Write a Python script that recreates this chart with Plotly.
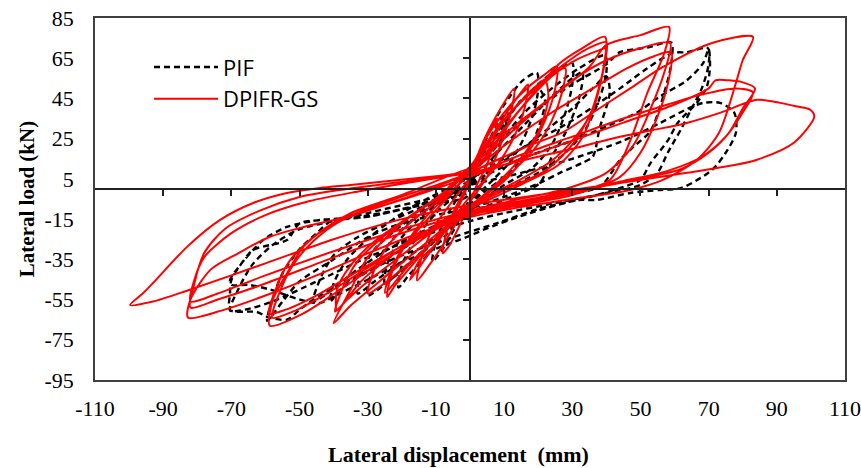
import plotly.graph_objects as go

# ---------------- tick labels ----------------
x_ticks = [-110, -90, -70, -50, -30, -10, 10, 30, 50, 70, 90, 110]
y_ticks = [85, 65, 45, 25, 5, -15, -35, -55, -75, -95]
x_zero_ticks = [-90, -70, -50, -30, -10, 10, 30, 50, 70, 90]
y_zero_ticks = [65, 45, 25, 5, -15, -35, -55, -75]

# ---------------- PIF (black dashed) cycles, (displacement mm, load kN) ----------------
pif_c1 = [(0, 3), (4, 18), (8, 32), (11, 38), (10, 28), (7, 15), (4, 5), (0, -5), (-4, -18), (-8, -30),
          (-11, -36), (-10, -26), (-7, -14), (-3, -3), (0, 3)]
pif_c2 = [(0, 3), (3.8, 21), (7.9, 36), (11.7, 46), (15.5, 54), (19.6, 57.7), (20, 50), (19, 40), (16, 26),
          (12, 14), (7, 5), (0, -7), (-5, -19), (-12, -32), (-18, -43), (-21, -49), (-20, -38), (-16, -25),
          (-10, -12), (-4, -3), (0, 3)]
pif_c2b = [(0, 2), (5, 18), (10, 32), (15, 44), (20, 50), (22, 44), (20, 30), (16, 16), (10, 6), (3, -3),
           (-4, -14), (-12, -28), (-20, -40), (-25, -47), (-24, -36), (-20, -24), (-13, -12), (-5, -3), (0, 2)]
pif_c3 = [(0, 4), (5, 20), (12, 38), (20, 52), (26, 60), (30, 62.6), (30, 52), (28, 38), (24, 22), (18, 10),
          (10, 2), (0, -10), (-8, -22), (-16, -35), (-24, -46), (-30, -53), (-29, -42), (-25, -30), (-18, -17),
          (-9, -6), (0, 4)]
pif_c3b = [(0, 3), (8, 18), (16, 32), (24, 46), (30, 55), (33, 58), (32, 45), (28, 28), (24, 16), (20.5, 3),
           (12, -4), (0, -12), (-10, -24), (-20, -36), (-28, -46), (-33, -52), (-32, -42), (-28, -30),
           (-20, -18), (-10, -6), (0, 3)]
pif_c4 = [(0, 5), (8, 22), (16, 38), (24, 50), (32, 60), (39.6, 66.4), (40, 58), (38, 45), (34, 30), (28, 18),
          (20, 8), (8, -2), (0, -8), (-10, -19), (-20, -30), (-30, -41), (-38, -50), (-41, -56), (-40, -47),
          (-36, -35), (-28, -22), (-18, -10), (-8, -1), (0, 5)]
pif_c4b = [(0, 2), (10, 14), (20, 26), (30, 40), (36, 50), (40, 56), (41, 48), (38, 30), (36, 16), (33, 13),
           (26.4, 8), (20.5, 3), (10, -4), (0, -10), (-10, -18), (-22, -28), (-33, -40), (-42, -52),
           (-46, -56), (-44, -45), (-40, -33), (-33, -24), (-22, -15), (-10, -6), (0, 2)]
pif_c5 = [(0, 5), (10, 25), (20, 40), (30, 52), (40, 62), (44, 68), (52, 70.3), (59, 72.8), (59, 62), (57, 48),
          (53, 29), (48, 21), (44, 14.4), (38, 1), (25, -3), (10, -8), (0, -10), (-10, -13), (-20, -17),
          (-30, -24), (-40, -35), (-50, -46), (-55, -56), (-59.5, -65.6), (-58, -55), (-55, -42), (-50, -30),
          (-45, -22), (-40.2, -15.4), (-30.2, -13.9), (-20.5, -10.4), (-10.9, -7), (-1, -4), (0, 3)]
pif_c6 = [(0, 3), (15, 15), (30, 24), (44, 34), (49, 38), (55.7, 46), (63.6, 54), (68.4, 62.6), (70, 69.5),
          (70.4, 61), (69.5, 51), (66.6, 43), (61, 33), (58, 24), (53, 13), (50, 4.5), (45, 1), (35, -4),
          (20, -10), (8, -17), (-5, -24), (-20, -33), (-35, -45), (-44, -53), (-50, -60), (-53.7, -65),
          (-59.5, -63.6), (-62.5, -61.2), (-70.4, -60.2), (-70.4, -52), (-70, -45.3), (-67, -37), (-63.6, -30.3),
          (-60.7, -25.4), (-53.7, -18.9), (-44, -15.4), (-35, -14.4), (-20, -10), (-8, -4), (0, 2)]
pif_c6b = [(0, 4), (15, 20), (30, 34), (44, 50), (52, 60), (59.5, 67.6), (63.6, 68), (69.8, 70), (70, 62),
           (68, 50), (65, 40), (62, 30), (58, 18), (55, 8), (50, 2), (40, -2), (25, -7), (10, -12), (0, -16),
           (-15, -24), (-30, -34), (-45, -46), (-58, -56), (-66, -60), (-70.4, -60.5), (-68, -50),
           (-64, -38), (-58, -28), (-50, -20), (-40, -16), (-25, -10), (-10, -4), (0, 2)]
pif_c7 = [(0, 2), (15, 8), (30, 15), (45, 24), (56, 33), (64, 40), (68.4, 42.8), (73.3, 42.8), (77.5, 38),
          (78, 28), (75, 18), (71, 9.5), (62, 0.5), (55.7, -0.5), (47, -2), (37, -5.5), (32, -5.5),
          (17.6, -12), (3.8, -20.4), (-0.9, -23.9), (-10.9, -30.3), (-20.5, -36.8), (-30.2, -45.3),
          (-40.2, -53.7), (-44, -56.7), (-49.9, -55), (-58.7, -50), (-65, -47.7), (-70, -47.7), (-70.4, -45.3),
          (-67, -37), (-63.6, -30.3), (-53.7, -25.4), (-49.9, -17), (-40.2, -15.4), (-30.2, -13.9), (-15, -8),
          (0, -2)]

# ---------------- DPIFR-GS (red) cycles ----------------
dp_c1 = [(0, 5), (3, 18), (6, 30), (8, 35), (7, 25), (5, 12), (2, 2), (0, -7), (-3, -18), (-6, -28), (-8, -32),
         (-7, -22), (-5, -12), (-2, -2), (0, 5)]
dp_c2 = [(0, 6), (4, 24), (9, 40), (13, 50), (12, 38), (9, 22), (5, 6), (1, -4), (-3, -14), (-8, -28),
         (-12, -38), (-15.5, -45.5), (-14, -33), (-11, -20), (-6, -8), (-2, 1), (0, 6)]
dp_c2b = [(0, 7), (5, 22), (10, 36), (15, 48), (17, 52), (16, 40), (13, 26), (8, 12), (3, 2), (-2, -8),
          (-7, -20), (-12, -32), (-17.6, -45.3), (-14.7, -35.3), (-9.7, -26.9), (-5, -14), (-1, 0), (0, 7)]
dp_c3 = [(0, 8), (5, 26), (12, 42), (18, 52), (22, 57), (25.5, 61), (25, 50), (22, 34), (17, 18), (10, 4),
         (2, -6), (-5, -16), (-12, -28), (-18, -40), (-22, -48), (-24.3, -53.7), (-23, -42), (-19, -28),
         (-13, -14), (-6, -2), (0, 8)]
dp_c3b = [(0, 9), (6, 24), (12, 38), (18, 48), (22, 54), (23, 46), (21, 32), (17, 20), (11, 8), (4, -3),
          (-4, -14), (-11, -26), (-18, -38), (-24.9, -51.7), (-23, -40), (-20, -30), (-14, -18), (-7, -5), (0, 9)]
dp_c3c = [(0, 10), (7, 28), (14, 42), (20, 52), (26, 59), (28, 60), (27, 48), (24, 34), (19, 20), (12, 8),
          (4, -4), (-4, -16), (-12, -28), (-20, -40), (-26, -48), (-30, -52), (-28, -40), (-24, -28), (-17, -16),
          (-8, -4), (0, 10)]
dp_c4 = [(0, 9), (5, 16), (12, 34), (20, 50), (26, 62), (33, 70), (39.6, 75.6), (38, 50.7), (33, 25.8),
         (26, 12), (16, 3), (6, -5), (0, -10), (-8, -20), (-18, -34), (-28, -48), (-35, -58), (-40, -66.7),
         (-35, -50), (-30, -34), (-25, -25), (-20, -17), (-10, -5), (0, 9)]
dp_c5 = [(0, 10), (6, 20), (14, 38), (22, 54), (30, 65), (36, 71), (40, 73), (39, 58), (36, 40), (30, 22),
         (22, 9), (12, 1), (0, -9), (-10, -20), (-20, -33), (-30, -46), (-36, -55), (-39.6, -61), (-37, -48),
         (-33, -36), (-27, -26), (-18, -14), (-8, -3), (0, 10)]
dp_c5b = [(0, 11), (8, 26), (16, 42), (24, 56), (31, 64), (38, 69), (40, 70), (38.5, 55), (35, 36),
          (30, 24), (24, 14), (14, 4), (2, -6), (-10, -18), (-22, -32), (-32, -46), (-39, -60), (-39, -50),
          (-35, -38), (-28, -26), (-18, -14), (-8, -2), (0, 11)]
dp_c6 = [(0, 10), (8, 24), (15, 34), (25.5, 47.7), (35, 60.7), (40, 71.6), (50, 76.5), (58.4, 80.5),
         (57, 67.6), (52, 47.7), (47, 24), (41, 4.5), (30, -2), (15, -7), (0, -12), (-12, -22), (-25, -35),
         (-38, -50), (-49, -62), (-58.7, -68), (-57.8, -55), (-53.7, -42), (-49, -29), (-42, -19), (-35, -12),
         (-20, -3), (0, 10)]
dp_c7 = [(0, 9), (10, 25), (20, 40), (30, 54), (40, 64), (50, 70), (58.7, 72.6), (57, 58), (53, 40), (48, 22),
         (40, 8), (28, 0), (12, -6), (0, -11), (-14, -22), (-28, -37), (-42, -52), (-52, -61), (-58, -64),
         (-56, -52), (-52, -38), (-46, -26), (-38, -16), (-25, -8), (-10, 1), (0, 8)]
dp_c7b = [(0, 8), (12, 24), (24, 38), (36, 50), (46, 60), (54, 66), (59, 68), (58, 52), (55, 36), (50, 18),
          (44, 6), (30, -3), (15, -8), (0, -13), (-15, -24), (-30, -38), (-44, -52), (-54, -60), (-59, -62),
          (-57, -50), (-53, -36), (-46, -24), (-36, -14), (-22, -5), (-8, 3), (0, 8)]
dp_c8 = [(0, 8), (10, 16), (18, 22), (27, 28), (37, 39), (47, 50), (56.6, 60.7), (71, 72.6), (83, 75.6),
         (80, 64), (78, 52.7), (73, 27.8), (66.5, 14.4), (56.6, 4.5), (47, -0.5), (30, -5), (15, -9), (0, -14),
         (-15, -22), (-30, -32), (-45, -43), (-60, -53), (-72, -60), (-82.7, -64), (-82, -55), (-76, -40),
         (-68, -32), (-59, -24), (-49, -19), (-39, -15), (-25, -8), (-12, -1), (0, 6)]
dp_c9 = [(0, 6), (15, 15), (30, 24), (45, 33), (60, 42), (70, 50), (72, 54), (76, 54), (80, 53), (83.6, 50),
         (80, 40), (76, 28), (70, 18), (62, 10), (50, 5), (35, 0), (18, -6), (0, -12), (-20, -22), (-40, -34),
         (-60, -47), (-74, -55), (-82, -59), (-81, -48), (-78, -32), (-72, -20), (-62, -11), (-50, -4),
         (-36, 0), (-18, 4), (0, 8)]
dp_c9b = [(0, 7), (15, 17), (30, 26), (45, 35), (58, 42), (68, 47), (78, 50), (83, 48), (80, 38), (75, 26),
          (68, 16), (58, 9), (45, 4), (30, -1), (15, -6), (0, -11), (-20, -20), (-40, -31), (-60, -43),
          (-74, -52), (-82, -56), (-81, -46), (-78, -34), (-70, -22), (-60, -13), (-47, -6), (-32, -1),
          (-15, 4), (0, 8)]
dp_c10 = [(0, 8), (15, 14), (30, 20), (44, 26), (53.7, 29.3), (63.6, 32.8), (73.3, 37.8), (84.2, 44.3),
          (91, 42.8), (96, 41), (99.7, 39.5), (101, 36), (95, 23), (84, 14.4), (78, 12), (63.6, 8), (44, 3),
          (20, -3), (0, -8), (-20, -15), (-40, -25), (-60, -37), (-82, -50), (-93, -56), (-99.7, -57.7),
          (-96, -52), (-93, -46.8), (-83, -28.8), (-73.3, -15.4), (-63.6, -7), (-53.7, -2), (-44, 0.5),
          (-35, 2), (-18, 5), (0, 8)]

pif_cycles = [pif_c1, pif_c2, pif_c2b, pif_c3, pif_c3b, pif_c4, pif_c4b, pif_c5, pif_c6, pif_c6b, pif_c7]
dp_cycles = [dp_c1, dp_c2, dp_c2b, dp_c3, dp_c3b, dp_c3c, dp_c4, dp_c5, dp_c5b, dp_c6, dp_c7, dp_c7b,
             dp_c8, dp_c9, dp_c9b, dp_c10]


def flatten(cycles):
    xs, ys = [], []
    for c in cycles:
        for x, y in c:
            xs.append(x)
            ys.append(y)
    return xs, ys


pif_x, pif_y = flatten(pif_cycles)
dp_x, dp_y = flatten(dp_cycles)

fig = go.Figure()
fig.add_trace(go.Scatter(x=pif_x, y=pif_y, mode='lines', name='PIF',
                         line=dict(color='black', width=2.4, dash='6px,4px', shape='spline', smoothing=0.8)))
fig.add_trace(go.Scatter(x=dp_x, y=dp_y, mode='lines', name='DPIFR-GS',
                         line=dict(color='#ff0000', width=2, shape='spline', smoothing=0.8)))
# carrier for the zero-line axes
fig.add_trace(go.Scatter(x=[None], y=[None], xaxis='x2', yaxis='y2', showlegend=False, hoverinfo='skip'))

serif = 'Liberation Serif, Times New Roman, serif'
fig.update_layout(
    width=861, height=468,
    margin=dict(l=95, r=16, t=18, b=88, autoexpand=False),
    paper_bgcolor='white', plot_bgcolor='white',
    showlegend=True,
    legend=dict(x=0.072, y=0.922, xanchor='left', yanchor='top', bgcolor='rgba(0,0,0,0)',
                font=dict(family='Open Sans', size=22, color='black'), tracegroupgap=0,
                itemwidth=64),
    xaxis=dict(range=[-110, 110], tickvals=x_ticks, ticktext=[str(v) for v in x_ticks],
               ticks='outside', ticklen=8, tickcolor='rgba(0,0,0,0)', automargin=False,
               ticklabeloverflow='allow',
               showline=True, mirror=True, linecolor='#404040', linewidth=1.5,
               showgrid=False, zeroline=False,
               tickfont=dict(family=serif, size=22, color='black')),
    yaxis=dict(range=[-95, 85], tickvals=y_ticks, ticktext=[str(v) for v in y_ticks],
               ticks='outside', ticklen=15, tickcolor='rgba(0,0,0,0)', automargin=False,
               ticklabeloverflow='allow',
               showline=True, mirror=True, linecolor='#404040', linewidth=1.5,
               showgrid=False, zeroline=False,
               tickfont=dict(family=serif, size=22, color='black'),
               title=dict(text='<b>Lateral load (kN)</b>', standoff=4,
                          font=dict(family=serif, size=21, color='black'))),
    xaxis2=dict(overlaying='x', anchor='free', position=95 / 180, range=[-110, 110], automargin=False,
                tickvals=x_zero_ticks, ticks='outside', ticklen=6, tickcolor='#202020', tickwidth=1.5,
                showline=True, linecolor='#202020', linewidth=1.5, showticklabels=False,
                showgrid=False, zeroline=False),
    yaxis2=dict(overlaying='y', anchor='free', position=0.5, range=[-95, 85], side='left', automargin=False,
                tickvals=y_zero_ticks, ticks='outside', ticklen=6, tickcolor='#202020', tickwidth=1.5,
                showline=True, linecolor='#202020', linewidth=1.5, showticklabels=False,
                showgrid=False, zeroline=False),
    annotations=[dict(text='<b>Lateral displacement  (mm)</b>', xref='paper', yref='paper',
                      x=0.484, y=-0.205, xanchor='center', yanchor='middle', showarrow=False,
                      font=dict(family=serif, size=22, color='black'))],
)

fig.write_html('out.html', config={'displayModeBar': False},
               post_script="document.body.style.margin='0';")
